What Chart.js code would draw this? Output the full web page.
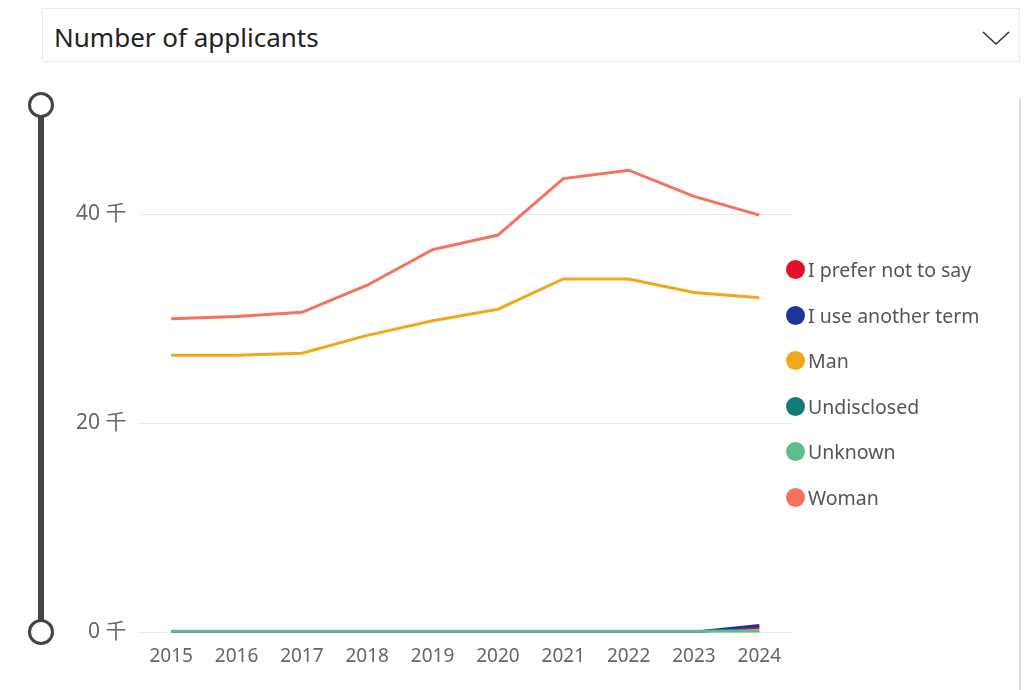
<!DOCTYPE html>
<html lang="en">
<head>
    <meta charset="UTF-8">
    <script src="https://cdn.jsdelivr.net/npm/chart.js"></script>
    <title>Number of applicants</title>
    <style>
        body { margin: 0; background: #fff; font-family: "Noto Sans", "Noto Sans CJK SC", sans-serif; }
        .header {
            position: absolute; left: 42px; top: 8px; width: 978px; height: 54px;
            border: 1px solid #eaeaea; box-sizing: border-box;
        }
        .header span { position: absolute; left: 11px; top: 10px; font-size: 26px; color: #222; }
        .header svg { position: absolute; right: 8px; top: 20px; }
        .slider-bar { position: absolute; left: 38px; top: 106px; width: 6px; height: 526px; background: #444; }
        .knob {
            position: absolute; left: 28px; width: 20px; height: 20px; border: 3px solid #444;
            border-radius: 50%; background: #fff;
        }
        .edge { position: absolute; left: 1019px; top: 98px; width: 2px; height: 592px; background: #ddd; }
        .chart-wrapper { position: absolute; left: 64px; top: 85px; width: 955px; height: 600px; }
        #legend { position: absolute; left: 786px; top: 258px; }
        #legend div { height: 45.6px; display: flex; align-items: flex-start; font-size: 19.5px; color: #555; line-height: 24px; }
        #legend i { display: inline-block; width: 19px; height: 19px; border-radius: 50%; margin: 2px 3px 0 0; }
    </style>
</head>
<body>

<div class="header">
    <span>Number of applicants</span>
    <svg width="30" height="18" viewBox="0 0 30 18"><polyline points="2,3 15,15 28,3" fill="none" stroke="#333" stroke-width="1.6"/></svg>
</div>
<div class="slider-bar"></div>
<div class="knob" style="top:92px"></div>
<div class="knob" style="top:619px"></div>
<div class="edge"></div>

<div class="chart-wrapper">
    <canvas id="applicantsChart"></canvas>
</div>
<div id="legend"></div>

<script>
const years = ['2015', '2016', '2017', '2018', '2019', '2020', '2021', '2022', '2023', '2024'];
const yTicks = [0, 20000, 40000];

const preferNotToSay = [0, 0, 0, 0, 0, 0, 0, 0, 0, 450];
const anotherTerm = [0, 0, 0, 0, 0, 0, 0, 0, 0, 650];
const man = [26500, 26500, 26700, 28400, 29800, 30900, 33800, 33800, 32500, 32000];
const undisclosed = [0, 0, 0, 0, 0, 0, 0, 0, 0, 0];
const unknown = [100, 100, 100, 100, 100, 100, 100, 100, 100, 150];
const woman = [30000, 30200, 30600, 33200, 36600, 38000, 43400, 44200, 41700, 39900];

function line(label, data, color, order) {
    return {
        label: label,
        data: data,
        borderColor: color,
        backgroundColor: color,
        borderWidth: 3,
        pointRadius: 0,
        tension: 0,
        order: order
    };
}

const ctx = document.getElementById('applicantsChart').getContext('2d');
const applicantsChart = new Chart(ctx, {
    type: 'line',
    data: {
        labels: years,
        datasets: [
            line('I prefer not to say', preferNotToSay, '#e3102b', 2),
            line('I use another term', anotherTerm, '#1e3597', 1),
            line('Man', man, '#f0a81c', 1),
            line('Undisclosed', undisclosed, '#137a78', 1),
            line('Unknown', unknown, '#5cbd8d', 0),
            line('Woman', woman, '#f4725e', 1)
        ]
    },
    options: {
        responsive: true,
        maintainAspectRatio: false,
        animation: false,
        layout: { padding: { top: 17.5, bottom: 12, left: 0, right: 227 } },
        plugins: {
            legend: { display: false },
            tooltip: { enabled: false }
        },
        scales: {
            x: {
                offset: true,
                grid: { display: false },
                border: { display: false },
                ticks: {
                    color: '#666',
                    maxRotation: 0,
                    autoSkip: false,
                    padding: 5,
                    font: { size: 19, family: '"Noto Sans", sans-serif' }
                }
            },
            y: {
                min: 0,
                max: 50000,
                afterBuildTicks: (scale) => {
                    scale.ticks = yTicks.map(v => ({ value: v }));
                },
                grid: { color: '#e9e9e9', lineWidth: 1, drawTicks: false },
                border: { display: false },
                ticks: {
                    color: '#666',
                    padding: 12,
                    font: { size: 21, family: '"Noto Sans", "Noto Sans CJK SC", sans-serif' },
                    callback: (value) => (value / 1000) + ' 千'
                }
            }
        }
    }
});

// legend built from the datasets, in dataset order
const legend = document.getElementById('legend');
applicantsChart.data.datasets.forEach(ds => {
    const item = document.createElement('div');
    item.innerHTML = '<i style="background:' + ds.borderColor + '"></i><span>' + ds.label + '</span>';
    legend.appendChild(item);
});
</script>

</body>
</html>
